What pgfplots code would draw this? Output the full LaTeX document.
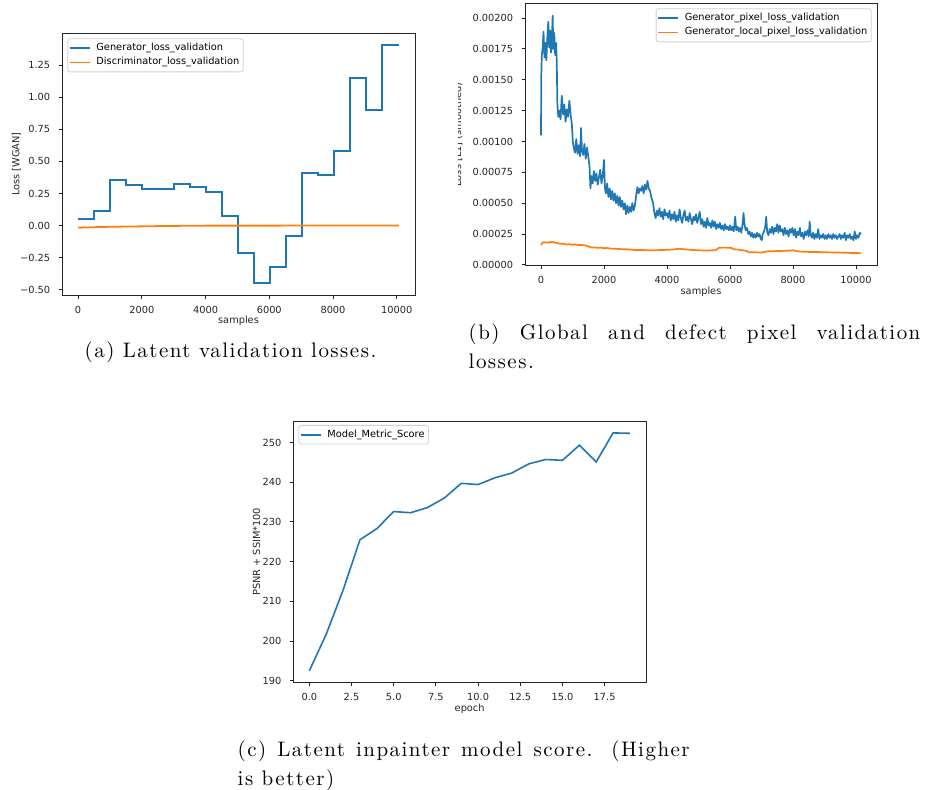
\documentclass[border=0pt]{standalone}
\usepackage{fontspec}
\usepackage{pgfplots}
\pgfplotsset{compat=1.18}

\newfontfamily\mpl{DejaVu Sans}
\newfontfamily\capfont{Latin Modern Roman}[LetterSpace=7]
\newcommand\mplf{\mpl\fontsize{4.9}{5.9}\selectfont}
\newcommand\capf{\capfont\fontsize{10.5}{14.5}\selectfont}
\definecolor{mblue}{HTML}{1F77B4}
\definecolor{morange}{HTML}{FF7F0E}

\pgfplotsset{
  mplaxis/.style={
    scale only axis, anchor=south west,
    axis line style={black!85, line width=0.45pt},
    tick align=outside, tick pos=left,
    major tick length=1.75pt,
    tick style={black!85, line width=0.45pt},
    tick label style={font=\mplf, text=black!85},
    xticklabel style={inner sep=0pt, anchor=north, yshift=-3.5pt},
    yticklabel style={inner sep=0pt, anchor=east, xshift=-4pt},
    every axis x label/.style={at={(axis description cs:0.5,0)}, anchor=center, yshift=-13pt,
      font=\mplf, text=black!85},
    scaled ticks=false,
    legend cell align=left,
    legend image code/.code={\draw[##1, line width=0.8pt] (0pt,0pt) -- (10pt,0pt);},
    legend style={
      font=\mplf, draw=black!18, fill=white, fill opacity=0.8, draw opacity=1, text opacity=1,
      rounded corners=1.2pt, line width=0.4pt,
      inner xsep=0.6pt, inner ysep=1pt,
      nodes={inner xsep=1.35pt, inner ysep=1.25pt, text height=3.6pt, text depth=1.2pt},
      /tikz/every odd column/.style={column sep=1.6pt},
    },
  },
  mplylabel/.style={every axis y label/.style={at={(axis description cs:#1,0.5)},
      rotate=90, anchor=center, font=\mplf, text=black!85}},
}

\begin{document}
\begin{tikzpicture}
\useasboundingbox (0pt,0pt) rectangle (462.5pt,394.5pt);

% ---------- (a) latent validation losses ----------
\begin{axis}[mplaxis,
  at={(31pt,247pt)}, width=176.5pt, height=131pt,
  xmin=-503.5, xmax=10573.5, ymin=-0.54, ymax=1.50,
  xtick={0,2000,4000,6000,8000,10000},
  xticklabels={0,2000,4000,6000,8000,10000},
  ytick={-0.5,-0.25,0,0.25,0.5,0.75,1,1.25},
  yticklabels={−0.50,−0.25,0.00,0.25,0.50,0.75,1.00,1.25},
  xlabel={samples}, ylabel={Loss [WGAN]},
  mplylabel=-0.1297,
  legend style={at={(axis description cs:0,1)}, anchor=north west, xshift=2.65pt, yshift=-2.65pt},
]
\addplot[mblue, line width=0.9pt, const plot] coordinates {
  (0,0.052) (493,0.117) (996,0.358) (1499,0.314) (2002,0.285) (2505,0.287)
  (3008,0.324) (3511,0.303) (4014,0.262) (4517,0.073) (5020,-0.213)
  (5523,-0.446) (6026,-0.324) (6529,-0.083) (7032,0.410) (7535,0.394)
  (8038,0.581) (8541,1.151) (9044,0.902) (9547,1.405) (10070,1.405)
};
\addlegendentry{Generator\_loss\_validation}
\addplot[morange, line width=0.9pt] coordinates {
  (0,-0.014) (100,-0.016) (200,-0.013) (300,-0.015) (400,-0.012) (500,-0.013)
  (600,-0.010) (800,-0.011) (1000,-0.008) (1200,-0.009) (1400,-0.007)
  (1800,-0.006) (2200,-0.005) (2600,-0.003) (3000,-0.002) (3500,-0.001)
  (4000,0.000) (5000,0.000) (6000,0.000) (7000,0.001) (8000,0.001)
  (9000,0.001) (10070,0.001)
};
\addlegendentry{Discriminator\_loss\_validation}
\end{axis}

% ---------- (b) pixel validation losses ----------
\begin{axis}[mplaxis,
  at={(262.5pt,261.65pt)}, width=176pt, height=131.2pt,
  xmin=-508, xmax=10668, ymin=-0.0000068, ymax=0.00212,
  xtick={0,2000,4000,6000,8000,10000},
  xticklabels={0,2000,4000,6000,8000,10000},
  ytick={0,0.00025,0.0005,0.00075,0.001,0.00125,0.0015,0.00175,0.002},
  yticklabels={0.00000,0.00025,0.00050,0.00075,0.00100,0.00125,0.00150,0.00175,0.00200},
  xlabel={samples},
  legend style={at={(axis description cs:1,1)}, anchor=north east, xshift=-2.65pt, yshift=-2.5pt},
]
\addplot[mblue, line width=0.85pt, line join=round] table {
x y
0 0.00105
8 0.00152
25 0.00170
50 0.00175
80 0.00189
110 0.00168
140 0.00180
170 0.00166
200 0.00184
230 0.00197
260 0.00176
290 0.00190
320 0.00172
350 0.00185
370 0.00202
390 0.00175
420 0.00188
450 0.00170
480 0.00180
500 0.00165
520 0.00130
550 0.00120
580 0.00125
620 0.00118
660 0.00137
700 0.00122
740 0.00130
780 0.00116
820 0.00126
860 0.00120
900 0.00133
940 0.00122
980 0.00114
1010 0.00100
1040 0.00095
1080 0.00091
1120 0.00102
1160 0.00090
1200 0.00097
1240 0.00088
1271 0.00111
1300 0.00093
1340 0.00089
1380 0.00098
1420 0.00086
1460 0.00095
1500 0.00088
1540 0.00080
1570 0.00062
1600 0.00072
1640 0.00066
1680 0.00076
1720 0.00068
1760 0.00074
1800 0.00065
1840 0.00071
1880 0.00077
1920 0.00066
1960 0.00072
2000 0.00085
2030 0.00062
2060 0.00058
2100 0.00066
2140 0.00055
2180 0.00062
2220 0.00053
2260 0.00060
2300 0.00052
2340 0.00058
2380 0.00050
2420 0.00056
2460 0.00048
2500 0.00055
2540 0.00047
2580 0.00052
2620 0.00045
2660 0.00050
2700 0.00041
2740 0.00048
2780 0.00042
2820 0.00047
2860 0.00043
2900 0.00050
2940 0.00044
2980 0.00048
3020 0.00056
3060 0.00063
3100 0.00058
3140 0.00062
3180 0.00060
3220 0.00064
3260 0.00058
3300 0.00065
3340 0.00061
3380 0.00068
3420 0.00062
3460 0.00060
3500 0.00055
3560 0.00050
3600 0.00042
3640 0.00038
3680 0.00044
3720 0.00040
3760 0.00046
3800 0.00039
3840 0.00043
3880 0.00037
3920 0.00045
3960 0.00040
4000 0.00042
4040 0.00038
4080 0.00044
4120 0.00036
4160 0.00041
4200 0.00037
4240 0.00043
4280 0.00035
4320 0.00040
4360 0.00036
4400 0.00045
4440 0.00038
4480 0.00034
4520 0.00040
4560 0.00044
4600 0.00036
4640 0.00039
4680 0.00035
4720 0.00042
4760 0.00037
4800 0.00033
4840 0.00039
4880 0.00036
4920 0.00041
4960 0.00034
5000 0.00038
5040 0.00043
5080 0.00033
5120 0.00037
5160 0.00031
5200 0.00035
5240 0.00030
5280 0.00038
5320 0.00032
5360 0.00034
5400 0.00030
5440 0.00036
5480 0.00031
5520 0.00035
5560 0.00029
5600 0.00033
5640 0.00030
5680 0.00034
5720 0.00029
5760 0.00032
5800 0.00028
5840 0.00033
5880 0.00029
5920 0.00031
5960 0.00028
6000 0.00032
6040 0.00028
6080 0.00031
6120 0.00027
6165 0.00039
6200 0.00028
6240 0.00031
6280 0.00027
6320 0.00030
6360 0.00026
6400 0.00033
6430 0.00042
6460 0.00033
6500 0.00028
6540 0.00030
6580 0.00025
6620 0.00027
6660 0.00023
6700 0.00026
6740 0.00022
6780 0.00025
6820 0.00022
6860 0.00026
6900 0.00023
6940 0.00025
6980 0.00021
7010 0.00020
7040 0.00025
7080 0.00027
7120 0.00031
7150 0.00039
7180 0.00027
7220 0.00024
7260 0.00029
7300 0.00026
7340 0.00031
7380 0.00025
7420 0.00030
7460 0.00027
7500 0.00033
7540 0.00026
7580 0.00032
7620 0.00027
7660 0.00029
7700 0.00024
7740 0.00030
7780 0.00025
7820 0.00028
7860 0.00023
7900 0.00029
7940 0.00026
7980 0.00030
8020 0.00024
8060 0.00029
8100 0.00022
8140 0.00027
8180 0.00024
8220 0.00030
8260 0.00023
8300 0.00026
8340 0.00021
8380 0.00027
8420 0.00024
8460 0.00028
8500 0.00023
8530 0.00035
8560 0.00025
8600 0.00022
8640 0.00026
8680 0.00021
8720 0.00025
8760 0.00022
8800 0.00029
8840 0.00021
8880 0.00024
8920 0.00022
8960 0.00025
9000 0.00021
9040 0.00024
9080 0.00021
9120 0.00025
9160 0.00022
9200 0.00024
9240 0.00021
9280 0.00025
9320 0.00022
9360 0.00024
9400 0.00021
9440 0.00023
9480 0.00025
9520 0.00021
9560 0.00024
9600 0.00022
9640 0.00026
9680 0.00020
9720 0.00024
9760 0.00022
9800 0.00025
9840 0.00021
9880 0.00023
9920 0.00020
9960 0.00027
10000 0.00021
10040 0.00024
10080 0.00022
10120 0.00026
10160 0.00025
};
\addlegendentry{Generator\_pixel\_loss\_validation}
\addplot[morange, line width=0.85pt, line join=round] table {
x y
0 0.000160
40 0.000178
100 0.000185
150 0.000180
200 0.000183
250 0.000179
300 0.000188
350 0.000182
400 0.000186
450 0.000180
500 0.000178
600 0.000170
700 0.000172
800 0.000165
900 0.000167
1000 0.000163
1100 0.000165
1200 0.000160
1300 0.000161
1400 0.000158
1500 0.000150
1600 0.000140
1700 0.000142
1800 0.000138
1900 0.000140
2000 0.000135
2100 0.000137
2200 0.000132
2350 0.000131
2500 0.000128
2650 0.000127
2800 0.000125
3000 0.000120
3200 0.000121
3400 0.000118
3600 0.000119
3800 0.000120
4000 0.000122
4200 0.000125
4400 0.000130
4600 0.000125
4800 0.000121
5000 0.000118
5300 0.000116
5550 0.000120
5650 0.000138
5800 0.000140
5950 0.000139
6050 0.000137
6100 0.000128
6300 0.000122
6500 0.000115
6600 0.000102
6800 0.000102
7000 0.000100
7200 0.000110
7500 0.000112
7800 0.000114
8000 0.000118
8200 0.000108
8500 0.000105
8800 0.000104
9000 0.000102
9400 0.000100
9800 0.000097
10160 0.000095
};
\addlegendentry{Generator\_local\_pixel\_loss\_validation}
\end{axis}

% ---------- (c) model score ----------
\begin{axis}[mplaxis,
  at={(146.65pt,53.15pt)}, width=176.35pt, height=130.85pt,
  xmin=-0.95, xmax=19.95, ymin=189.5, ymax=255.4,
  xtick={0,2.5,5,7.5,10,12.5,15,17.5},
  xticklabels={0.0,2.5,5.0,7.5,10.0,12.5,15.0,17.5},
  ytick={190,200,210,220,230,240,250},
  yticklabels={190,200,210,220,230,240,250},
  xlabel={epoch}, ylabel={PSNR + SSIM*100},
  mplylabel=-0.104,
  legend style={at={(axis description cs:0,1)}, anchor=north west, xshift=2.5pt, yshift=-2pt},
]
\addplot[mblue, line width=0.8pt] coordinates {
  (0,192.5) (1,201.7) (2,212.8) (3,225.5) (4,228.3) (5,232.6) (6,232.3)
  (7,233.6) (8,236.0) (9,239.7) (10,239.4) (11,241.1) (12,242.3) (13,244.6)
  (14,245.7) (15,245.5) (16,249.3) (17,245.1) (18,252.4) (19,252.3)
};
\addlegendentry{Model\_Metric\_Score}
\end{axis}

% y label of (b), cut at the left edge of its panel
\begin{scope}
  \clip (229.25pt,0pt) rectangle (240pt,394.5pt);
  \node[rotate=90, anchor=base, inner sep=0pt, font=\mplf, text=black!85]
    at (230.6pt,327.25pt) {Loss [L1] (smoothed)};
\end{scope}

% ---------- captions ----------
\node[anchor=base, inner sep=0pt] at (115.25pt,215.65pt)
  {\capf (a) Latent validation losses.};
\node[anchor=base west, inner sep=0pt] at (234.15pt,224.85pt)
  {\parbox[t]{225.85pt}{\capf (b) Global and defect pixel validation\linebreak losses.}};
\node[anchor=base west, inner sep=0pt] at (118.65pt,16.15pt)
  {\parbox[t]{226pt}{\capf (c) Latent inpainter model score. (Higher\linebreak is better)}};
\end{tikzpicture}
\end{document}
